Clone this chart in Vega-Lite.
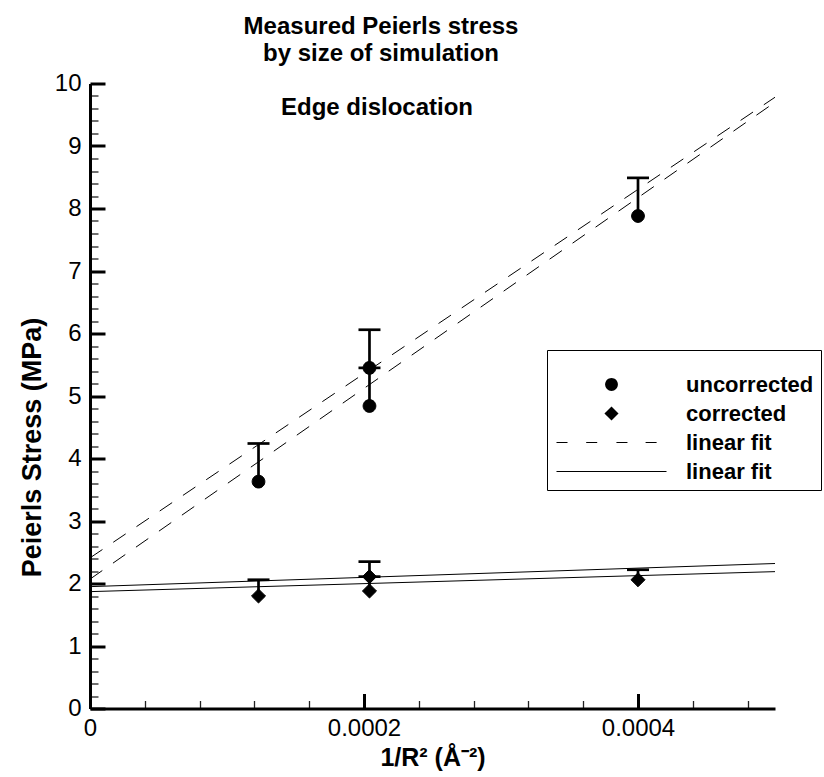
{
  "$schema": "https://vega.github.io/schema/vega-lite/v6.json",
  "width": 685,
  "height": 625,
  "autosize": {"type": "none"},
  "padding": {"left": 90, "top": 83.5, "right": 49, "bottom": 68.5},
  "background": "white",
  "config": {"view": {"stroke": null}, "font": "Liberation Sans"},
  "title": {
    "text": ["Measured Peierls stress", "by size of simulation"],
    "font": "Liberation Sans",
    "fontSize": 24,
    "fontWeight": "bold",
    "color": "black",
    "anchor": "middle",
    "dx": -51.5,
    "offset": 6,
    "lineHeight": 27
  },
  "datasets": {
    "fits": [
      {"fit": "uncorrected fit 1", "x": 0, "y": 2.41},
      {"fit": "uncorrected fit 1", "x": 0.0005, "y": 9.78},
      {"fit": "uncorrected fit 2", "x": 0, "y": 2.07},
      {"fit": "uncorrected fit 2", "x": 0.0005, "y": 9.70},
      {"fit": "corrected fit 1", "x": 0, "y": 1.95},
      {"fit": "corrected fit 1", "x": 0.0005, "y": 2.32},
      {"fit": "corrected fit 2", "x": 0, "y": 1.87},
      {"fit": "corrected fit 2", "x": 0.0005, "y": 2.19}
    ],
    "err": [
      {"x": 0.000123, "y": 3.63, "y2": 4.24},
      {"x": 0.000204, "y": 4.84, "y2": 5.45},
      {"x": 0.000204, "y": 5.45, "y2": 6.06},
      {"x": 0.0004, "y": 7.88, "y2": 8.49},
      {"x": 0.000123, "y": 1.80, "y2": 2.06},
      {"x": 0.000204, "y": 1.88, "y2": 2.11},
      {"x": 0.000204, "y": 2.11, "y2": 2.35},
      {"x": 0.0004, "y": 2.06, "y2": 2.22}
    ],
    "pts": [
      {"s": "uncorrected", "x": 0.000123, "y": 3.63},
      {"s": "uncorrected", "x": 0.000204, "y": 5.45},
      {"s": "uncorrected", "x": 0.000204, "y": 4.84},
      {"s": "uncorrected", "x": 0.0004, "y": 7.88},
      {"s": "corrected", "x": 0.000123, "y": 1.80},
      {"s": "corrected", "x": 0.000204, "y": 2.11},
      {"s": "corrected", "x": 0.000204, "y": 1.88},
      {"s": "corrected", "x": 0.0004, "y": 2.06}
    ]
  },
  "layer": [
    {
      "data": {"name": "fits"},
      "transform": [{"filter": {"field": "fit", "oneOf": ["uncorrected fit 1", "uncorrected fit 2"]}}],
      "mark": {"type": "line", "color": "black", "strokeWidth": 1, "strokeDash": [15, 13]},
      "encoding": {
        "x": {
          "field": "x", "type": "quantitative",
          "scale": {"domain": [0, 0.0005], "nice": false, "zero": false},
          "axis": {
            "orient": "bottom", "title": null, "grid": false, "labels": false, "domain": false,
            "values": [0.00004, 0.00008, 0.00012, 0.00016, 0.00024, 0.00028, 0.00032, 0.00036, 0.00044, 0.00048],
            "tickSize": -8, "tickWidth": 1.3, "tickColor": "#222"
          }
        },
        "y": {
          "field": "y", "type": "quantitative",
          "scale": {"domain": [0, 10], "nice": false, "zero": false},
          "axis": {
            "orient": "left", "title": null, "grid": false, "labels": false, "domain": false,
            "values": [0.2, 0.4, 0.6, 0.8, 1.2, 1.4, 1.6, 1.8, 2.2, 2.4, 2.6, 2.8, 3.2, 3.4, 3.6, 3.8, 4.2, 4.4, 4.6, 4.8, 5.2, 5.4, 5.6, 5.8, 6.2, 6.4, 6.6, 6.8, 7.2, 7.4, 7.6, 7.8, 8.2, 8.4, 8.6, 8.8, 9.2, 9.4, 9.6, 9.8],
            "tickSize": -8, "tickWidth": 1.3, "tickColor": "#222"
          }
        },
        "detail": {"field": "fit", "type": "nominal"}
      }
    },
    {
      "data": {"name": "fits"},
      "transform": [{"filter": {"field": "fit", "oneOf": ["corrected fit 1", "corrected fit 2"]}}],
      "mark": {"type": "line", "color": "black", "strokeWidth": 1},
      "encoding": {
        "x": {"field": "x", "type": "quantitative", "axis": null},
        "y": {"field": "y", "type": "quantitative", "axis": null},
        "detail": {"field": "fit", "type": "nominal"}
      }
    },
    {
      "data": {"name": "err"},
      "mark": {"type": "rule", "color": "black", "strokeWidth": 2.7},
      "encoding": {
        "x": {
          "field": "x", "type": "quantitative",
          "axis": {
            "orient": "bottom", "grid": false,
            "values": [0, 0.0002, 0.0004],
            "labelExpr": "datum.value == 0 ? '0' : format(datum.value, '.4f')",
            "tickSize": -15, "tickWidth": 3, "tickColor": "black",
            "domain": true, "domainWidth": 3, "domainColor": "black",
            "labelFont": "Liberation Sans", "labelFontSize": 24, "labelColor": "black", "labelPadding": 23,
            "labelFlush": false, "labelOverlap": false,
            "title": "1/R² (Å⁻²)", "titleFont": "Liberation Sans", "titleFontSize": 25, "titleFontWeight": "bold", "titleColor": "black", "titlePadding": 5
          }
        },
        "y": {
          "field": "y", "type": "quantitative",
          "axis": {
            "orient": "left", "grid": false,
            "values": [0, 1, 2, 3, 4, 5, 6, 7, 8, 9, 10],
            "tickSize": -15, "tickWidth": 3, "tickColor": "black",
            "domain": true, "domainWidth": 3, "domainColor": "black",
            "labelFont": "Liberation Sans", "labelFontSize": 24, "labelColor": "black", "labelPadding": 24,
            "labelFlush": false, "labelOverlap": false,
            "title": "Peierls Stress (MPa)", "titleFont": "Liberation Sans", "titleFontSize": 27, "titleFontWeight": "bold", "titleColor": "black",
            "titleX": -58, "titleY": 363.5, "titleAlign": "center", "titleBaseline": "middle", "titleAngle": -90
          }
        },
        "y2": {"field": "y2"}
      }
    },
    {
      "data": {"name": "err"},
      "mark": {"type": "tick", "orient": "horizontal", "color": "black", "size": 22, "thickness": 2.7, "opacity": 1},
      "encoding": {
        "x": {"field": "x", "type": "quantitative", "axis": null},
        "y": {"field": "y2", "type": "quantitative", "axis": null}
      }
    },
    {
      "data": {"name": "pts"},
      "mark": {"type": "point", "filled": false, "fill": "black", "stroke": "black", "strokeWidth": 1, "size": 484, "opacity": 1},
      "encoding": {
        "x": {"field": "x", "type": "quantitative", "axis": null},
        "y": {"field": "y", "type": "quantitative", "axis": null},
        "shape": {
          "field": "s", "type": "nominal",
          "scale": {
            "domain": ["uncorrected", "corrected", "linear fit (dashed)", "linear fit (solid)"],
            "range": [
              "M0.58,0A0.58,0.58,0,1,1,-0.58,0A0.58,0.58,0,1,1,0.58,0Z",
              "M0,-0.64L0.64,0L0,0.64L-0.64,0Z",
              "M-5,-0.05H-4V0.05H-5ZM-2.3,-0.05H-1.3V0.05H-2.3ZM0.45,-0.05H1.45V0.05H0.45ZM3.1,-0.05H4.1V0.05H3.1Z",
              "M-5,-0.05H5V0.05H-5Z"
            ]
          },
          "legend": {
            "title": " ", "titleFontSize": 12, "titlePadding": 4,
            "orient": "none", "legendX": 457, "legendY": 266.5, "direction": "vertical",
            "padding": 7, "strokeColor": "black", "fillColor": "white",
            "symbolSize": 484, "symbolStrokeWidth": 1, "symbolStrokeColor": "black", "symbolFillColor": "black",
            "symbolOffset": 46, "labelOffset": 63, "rowPadding": 6,
            "labelFont": "Liberation Sans", "labelFontSize": 22, "labelFontWeight": "bold", "labelColor": "black", "labelLimit": 300,
            "labelExpr": "indexof(datum.label, 'linear fit') == 0 ? 'linear fit' : datum.label"
          }
        }
      }
    },
    {
      "data": {"values": [{"x": 0.0002095, "y": 9.61, "t": "Edge dislocation"}]},
      "mark": {"type": "text", "font": "Liberation Sans", "fontSize": 24, "fontWeight": "bold", "color": "black", "align": "center", "baseline": "middle"},
      "encoding": {
        "x": {"field": "x", "type": "quantitative", "axis": null},
        "y": {"field": "y", "type": "quantitative", "axis": null},
        "text": {"field": "t"}
      }
    }
  ],
  "resolve": {"axis": {"x": "independent", "y": "independent"}}
}
